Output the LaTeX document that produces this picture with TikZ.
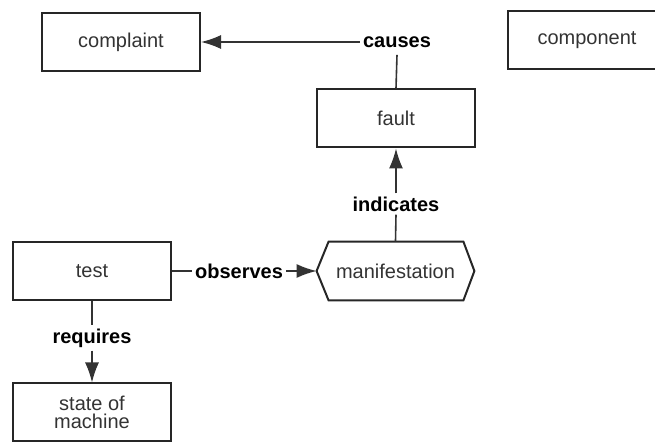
\documentclass[tikz,border=0pt]{standalone}
\usepackage{fontspec}
\setmainfont{Liberation Sans}
\usetikzlibrary{arrows.meta}
\begin{document}
\begin{tikzpicture}[x=0.5pt,y=-0.5pt,line cap=butt,line join=miter,>={Latex[length=10pt,width=7pt]},
  box/.style={draw=black!85,line width=1pt,minimum width=79pt,minimum height=29pt,inner sep=0pt,
    text=black!80,font=\fontsize{10}{9}\selectfont,align=center},
  rel/.style={font=\bfseries\fontsize{10}{12}\selectfont,inner sep=1.5pt},
  link/.style={draw=black!80,line width=0.8pt}]
  \clip (0,0) rectangle (655,443);
  % entities
  \node[box] (complaint) at (121,42) {complaint};
  \node[box] (component) at (587,40) {component};
  \node[box] (fault) at (396,118.5) {fault};
  \node[box] (test) at (92,271) {test};
  \node[box] (state) at (92,412.5) {state of\\machine};
  \node[minimum width=78.5pt,minimum height=29pt,inner sep=0pt,text=black!80,
    font=\fontsize{10}{12}\selectfont] (manif) at (395.5,271) {manifestation};
  \draw[draw=black!85,line width=1pt] (manif.west) -- ([xshift=6pt]manif.north west)
    -- ([xshift=-5.5pt]manif.north east) -- (manif.east) -- ([xshift=-5.5pt]manif.south east)
    -- ([xshift=6pt]manif.south west) -- cycle;
  % relations
  \node[rel] (causes) at (397,42) {causes};
  \node[rel] (indicates) at (396,204) {indicates};
  \node[rel] (observes) at (239,271) {observes};
  \node[rel] (requires) at (92,338) {requires};
  \draw[link] (fault.north) -- ([yshift=-2pt]causes.south);
  \draw[link,->] (causes.west) -- (complaint.east);
  \draw[link] (manif.north) -- (indicates.south);
  \draw[link,->] (indicates.north) -- (fault.south);
  \draw[link] (test.east) -- (observes.west);
  \draw[link,->] (observes.east) -- (manif.west);
  \draw[link] (test.south) -- (requires.north);
  \draw[link,->] (requires.south) -- (state.north);
\end{tikzpicture}
\end{document}
